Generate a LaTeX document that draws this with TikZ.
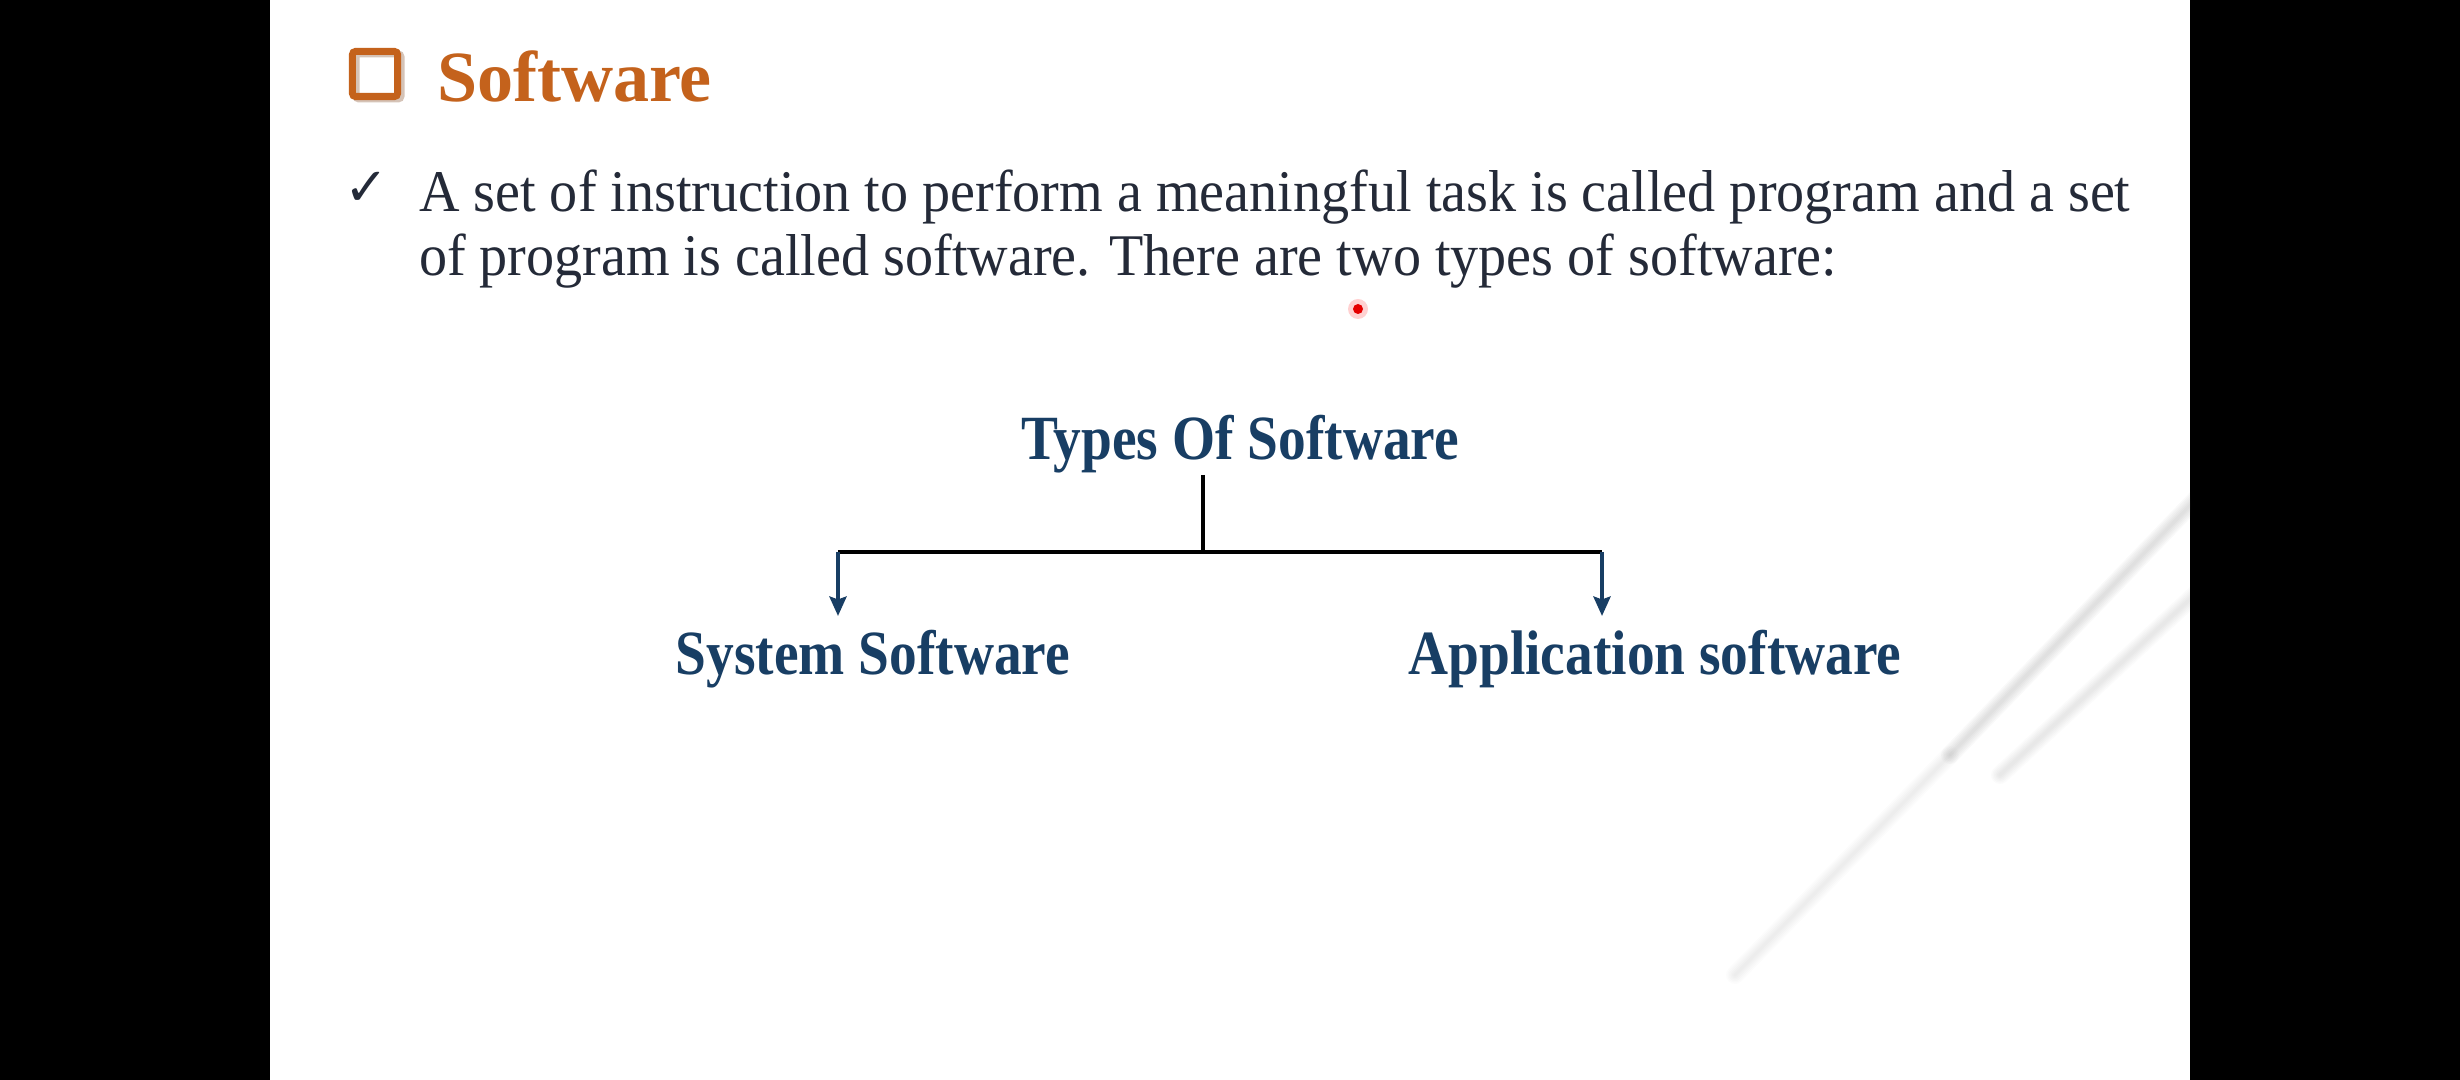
\documentclass[tikz,border=0pt]{standalone}
\usepackage{fontspec}
\setmainfont{Liberation Serif}
\newfontfamily\bodyfont[FakeStretch=0.95]{Liberation Serif}
\newfontfamily\diagfont[FakeStretch=0.88]{Liberation Serif}
\newfontfamily\symfont{DejaVu Sans}
\usetikzlibrary{arrows.meta}
\definecolor{titleorange}{RGB}{196,98,28}
\definecolor{navy}{RGB}{24,62,100}
\definecolor{inkgray}{RGB}{36,42,56}
\definecolor{streak}{RGB}{150,150,150}
\tikzset{
  plaintext/.style={anchor=base west, inner sep=0pt, outer sep=0pt},
  titletext/.style={plaintext, text=titleorange, font=\bfseries\fontsize{20.5}{24}\selectfont},
  bodytext/.style={plaintext, text=inkgray, font=\bodyfont\fontsize{16.8}{20}\selectfont},
  ticktext/.style={plaintext, text=inkgray, font=\symfont\fontsize{15}{16}\selectfont},
  typelabel/.style={anchor=base, inner sep=0pt, outer sep=0pt, text=navy,
    font=\diagfont\bfseries\fontsize{17.9}{20}\selectfont},
  barline/.style={draw=black, line width=1.4pt},
  stemline/.style={draw=black, line width=1.1pt},
  branch/.style={draw=navy, line width=1.3pt,
    -{Stealth[length=5.5pt, width=4.8pt, inset=0.8pt]}},
}
\begin{document}
\begin{tikzpicture}[x=0.01cm, y=-0.01cm]
  \useasboundingbox (0,0) rectangle (2460,1080);
  % screen frame and slide
  \fill[black] (0,0) rectangle (2460,1080);
  \fill[white] (270,0) rectangle (2190,1080);

  % soft diagonal light streaks at the lower right
  \begin{scope}
    \clip (270,0) rectangle (2190,1080);
    \foreach \w in {3,6,9,12,15,18} {
      \draw[streak, line width=\w*0.01cm, opacity=0.05, line cap=round]
        (2200,495) -- (1950,755);
      \draw[streak, line width=\w*0.01cm, opacity=0.025, line cap=round]
        (1950,755) -- (1735,975);
      \draw[streak, line width=\w*0.01cm, opacity=0.035, line cap=round]
        (2200,590) -- (2000,775);
    }
  \end{scope}

  % heading with box icon
  \draw[titleorange!60!black, opacity=0.3, line width=0.07cm, rounded corners=0.03cm]
    (356,54) rectangle (401,99);
  \node[draw=titleorange, line width=0.07cm, rounded corners=0.03cm,
        minimum size=0.45cm, inner sep=0pt] (titlebox) at (375,74) {};
  \node[titletext] (title) at (437,102) {Software};

  % bullet text
  \node[ticktext] (tick) at (344,206) {✓};
  \node[bodytext] (line1) at (419,212)
    {A set of instruction to perform a meaningful task is called program and a set};
  \node[bodytext] (line2) at (419,276)
    {of program is called software. There are two types of software:};

  % pointer dot
  \fill[red, opacity=0.18] (1358,309) circle (10);
  \fill[red!90!black] (1358,309) circle (5);

  % tree of software types
  \node[typelabel] (types) at (1240,460) {Types Of Software};
  \node[typelabel] (system) at (873,675) {System Software};
  \node[typelabel] (application) at (1655,675) {Application software};

  \coordinate (stemtop) at (1203,475);
  \coordinate (junction) at (1203,552);
  \coordinate (barL) at (838,552);
  \coordinate (barR) at (1602,552);
  \coordinate (tipL) at (838,616);
  \coordinate (tipR) at (1602,616);

  \draw[stemline] (stemtop) -- (junction);
  \draw[barline] (barL) -- (barR);
  \draw[branch] (barL) -- (tipL);
  \draw[branch] (barR) -- (tipR);
\end{tikzpicture}
\end{document}
